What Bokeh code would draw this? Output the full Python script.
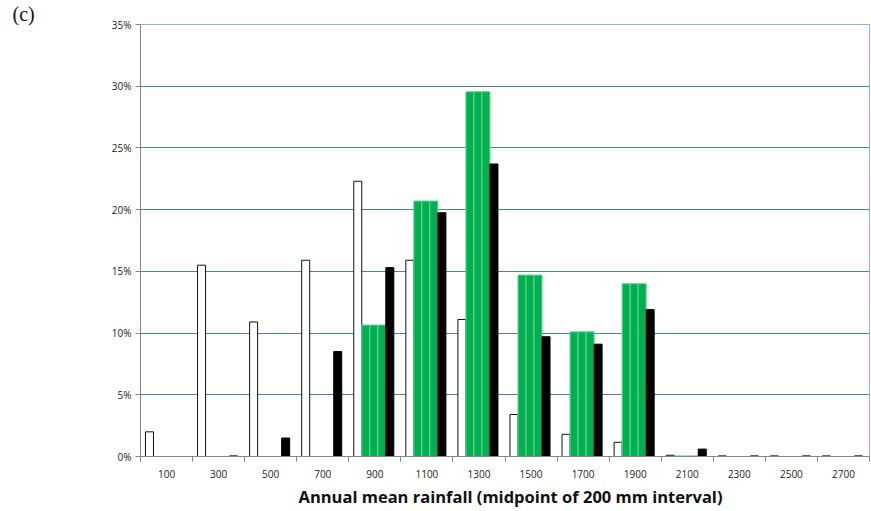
from bokeh.plotting import figure
from bokeh.models import Range1d, FixedTicker, Title
from bokeh.embed import file_html
from bokeh.resources import INLINE

categories = ["100", "300", "500", "700", "900", "1100", "1300", "1500",
              "1700", "1900", "2100", "2300", "2500", "2700"]
white_vals = [2.0, 15.5, 10.9, 15.9, 22.3, 15.9, 11.1, 3.4, 1.8, 1.15, 0.1, 0.05, 0.05, 0.05]
green_vals = [0, 0, 0, 0, 10.65, 20.7, 29.55, 14.7, 10.1, 14.0, 0.05, 0, 0, 0]
black_vals = [0, 0.05, 1.5, 8.5, 15.3, 19.75, 23.7, 9.7, 9.1, 11.9, 0.6, 0.05, 0.05, 0.05]
y_ticks = [0, 5, 10, 15, 20, 25, 30, 35]

n = len(categories)
p = figure(width=871, height=511, output_backend="svg", toolbar_location=None,
           x_range=Range1d(0, n), y_range=Range1d(0, 35),
           min_border_left=140, min_border_right=2, min_border_top=24, min_border_bottom=55)

# bar geometry: 5 series per category, gap width 150%
bw = 1.0 / 6.5
start = 0.75 * bw - 0.02
centers = [start + bw * (k + 0.5) for k in range(5)]
idx = list(range(n))

def xs(k):
    return [i + centers[k] for i in idx]

p.vbar(x=xs(0), top=white_vals, width=bw, fill_color="white", line_color="#111111", line_width=1)
for k in (1, 2, 3):
    p.vbar(x=xs(k), top=green_vals, width=bw, fill_color="#00B050", line_color="#66D38F", line_width=1)
p.vbar(x=xs(4), top=black_vals, width=bw, fill_color="black", line_color="black", line_width=1)

# x axis: labels at centres, tick marks at category boundaries
p.xaxis.ticker = FixedTicker(ticks=[i + 0.5 for i in idx], minor_ticks=list(range(n + 1)))
p.xaxis.major_label_overrides = {i + 0.5: c for i, c in zip(idx, categories)}
p.xaxis.major_tick_line_color = None
p.xaxis.minor_tick_out = 5
p.xaxis.minor_tick_in = 0
p.xaxis.minor_tick_line_color = "#868686"
p.xaxis.axis_line_color = "#868686"
p.xaxis.major_label_text_font = "Open Sans"
p.xaxis.major_label_text_font_size = "10px"
p.xaxis.major_label_text_color = "#222222"
p.xaxis.major_label_standoff = 7

p.add_layout(Title(text="Annual mean rainfall (midpoint of 200 mm interval)",
                   align="left", offset=158, standoff=4,
                   text_font="Open Sans", text_font_style="bold",
                   text_font_size="16.5px", text_color="#111111"), "below")

p.yaxis.ticker = FixedTicker(ticks=y_ticks)
p.yaxis.major_label_overrides = {t: f"{t}%" for t in y_ticks}
p.yaxis.major_tick_out = 5
p.yaxis.major_tick_in = 0
p.yaxis.minor_tick_line_color = None
p.yaxis.major_tick_line_color = "#868686"
p.yaxis.axis_line_color = "#868686"
p.yaxis.major_label_text_font = "Open Sans"
p.yaxis.major_label_text_font_size = "10px"
p.yaxis.major_label_text_color = "#222222"
p.yaxis.major_label_standoff = 4

p.xgrid.grid_line_color = None
p.ygrid.grid_line_color = "#4A7EBB"
p.ygrid.grid_line_width = 1
p.outline_line_color = "#8DB3E2"
p.outline_line_width = 1

p.add_layout(Title(text="(c)", align="left", offset=-128, standoff=0,
                   vertical_align="bottom",
                   text_font="Liberation Serif", text_font_style="normal",
                   text_font_size="20px", text_color="#111111"), "above")

open("out.html", "w").write(file_html(p, INLINE))
